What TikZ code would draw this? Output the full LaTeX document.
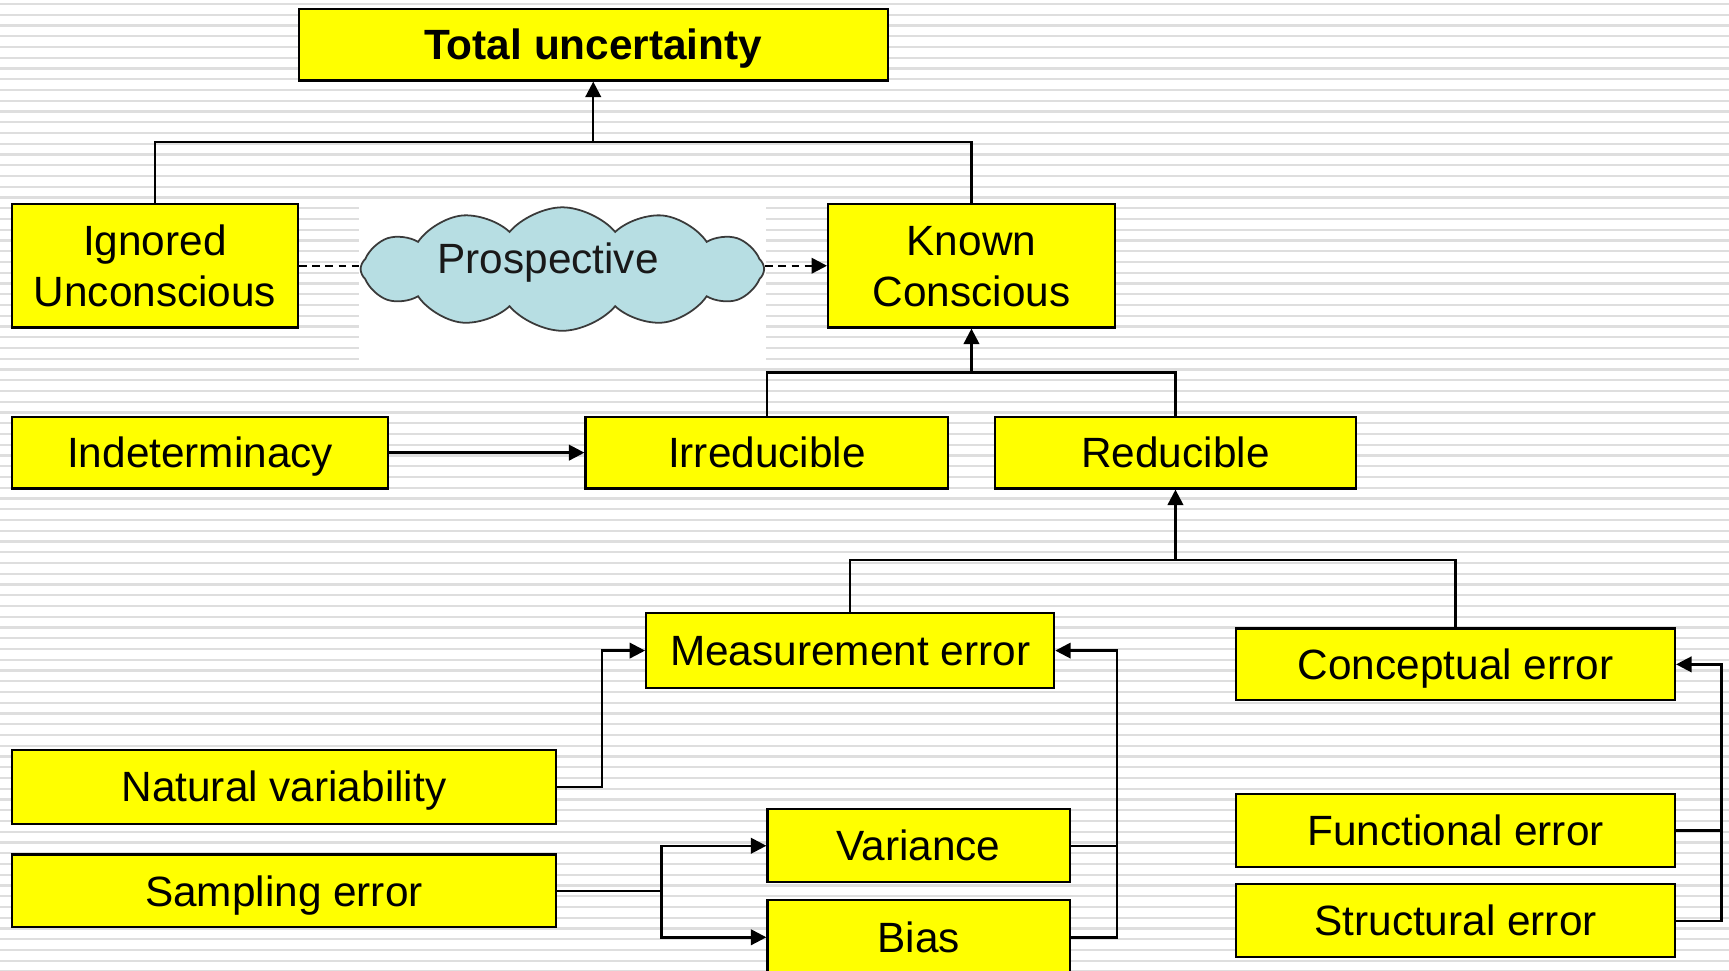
\documentclass[tikz,border=0pt]{standalone}
\usepackage{fontspec}
\setmainfont{Liberation Sans}
\usetikzlibrary{arrows.meta,shapes.symbols}
\definecolor{boxyellow}{HTML}{FFFF00}
\definecolor{cloudblue}{HTML}{B7DEE3}
\definecolor{cloudedge}{HTML}{3A3A3A}
\definecolor{stripegray}{HTML}{DEDEDE}

\begin{document}
\begin{tikzpicture}[x=1pt,y=-1pt,
  box/.style={draw=black, fill=boxyellow, line width=2pt, inner sep=0pt,
    align=center, text height=27.5pt, text depth=0pt,
    font=\fontsize{38.4}{46}\selectfont},
  twoline/.style={text height=73.5pt},
  link/.style={line width=2.2pt, draw=black},
  tip/.style={-{Triangle[length=14pt,width=14pt]}},
  arrowlink/.style={link, tip},
  dashlink/.style={link, dash pattern=on 7pt off 5pt},
  stripe/.style={draw=stripegray, line width=2pt}]
\useasboundingbox (0,0) rectangle (1568,880);
\clip (0,0) rectangle (1568,880);

% striped backdrop, with a plain patch behind the cloud
\foreach \i in {0,...,90}
  \draw[stripe] (0,{3.6+9.749*\i}) -- (1568,{3.6+9.749*\i});
\fill[white] (325.6,182) rectangle (694.7,330);

% boxes
\node[box, minimum width=534pt, minimum height=65pt] (total) at (538,40.5) {\bfseries Total uncertainty};
\node[box, twoline, minimum width=259pt, minimum height=112pt] (ign) at (140.5,241) {Ignored\\Unconscious};
\node[box, twoline, minimum width=260pt, minimum height=112pt] (kno) at (881,241) {Known\\Conscious};
\node[box, minimum width=341pt, minimum height=65pt] (ind) at (181.5,410.5) {Indeterminacy};
\node[box, minimum width=329pt, minimum height=65pt] (irr) at (695.5,410.5) {Irreducible};
\node[box, minimum width=328pt, minimum height=65pt] (red) at (1066,410.5) {Reducible};
\node[box, minimum width=370pt, minimum height=68pt] (meas) at (771,590) {Measurement error};
\node[box, minimum width=398pt, minimum height=65pt] (conc) at (1320,602.5) {Conceptual error};
\node[box, minimum width=493pt, minimum height=67pt] (nat) at (257.5,713.5) {Natural variability};
\node[box, minimum width=493pt, minimum height=66pt] (samp) at (257.5,808) {Sampling error};
\node[box, minimum width=274pt, minimum height=66pt] (var) at (833,767) {Variance};
\node[box, minimum width=274pt, minimum height=68pt] (bias) at (833,850) {Bias};
\node[box, minimum width=398pt, minimum height=66pt] (func) at (1320,753) {Functional error};
\node[box, minimum width=398pt, minimum height=66pt] (struc) at (1320,835) {Structural error};

% cloud
\node[cloud, draw=cloudedge, fill=cloudblue, line width=1.6pt, cloud puffs=12,
  cloud puff arc=100, cloud ignores aspect, minimum width=366pt,
  minimum height=112pt, inner sep=0pt] (cloud) at (510,244) {};
\node[font=\fontsize{38.4}{46}\selectfont, text=black!90] (pros) at (497,238) {Prospective};

% connectors
\coordinate (j1) at (538,129);
\draw[link] (ign.north) |- (j1) -| (kno.north);
\draw[arrowlink] (j1) -- (total.south);
\draw[dashlink] (ign.east) -- (ign.east -| cloud.west);
\draw[dashlink, tip] (kno.west -| cloud.east) -- (kno.west);

\coordinate (j2) at (881,338);
\draw[link] (irr.north) |- (j2) -| (red.north);
\draw[arrowlink] (j2) -- (kno.south);
\draw[arrowlink] (ind.east) -- (irr.west);

\coordinate (j3) at (1066,508);
\draw[link] (meas.north) |- (j3) -| (conc.north);
\draw[arrowlink] (j3) -- (red.south);

\draw[arrowlink] (nat.east) -- ++(41,0) |- (meas.west);

\coordinate (j5) at (600,808);
\draw[link] (samp.east) -- (j5);
\draw[arrowlink] (j5) |- (var.west);
\draw[arrowlink] (j5) |- (bias.west);

\coordinate (j6) at (1013,767);
\draw[link] (var.east) -- (j6);
\draw[arrowlink] (bias.east) -| (j6) |- (meas.east);

\coordinate (j7) at (1561,753);
\draw[link] (func.east) -- (j7);
\draw[arrowlink] (struc.east) -| (j7) |- (conc.east);
\end{tikzpicture}
\end{document}
